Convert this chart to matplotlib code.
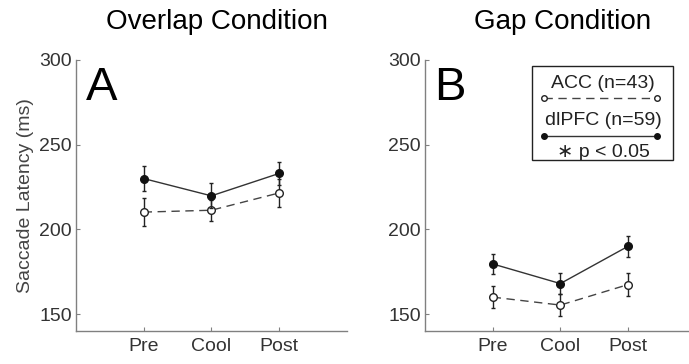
import matplotlib
matplotlib.use("Agg")
import matplotlib.pyplot as plt
from matplotlib.patches import Rectangle

plt.rcParams['font.family'] = ['Liberation Sans', 'DejaVu Sans']

phases = ["Pre", "Cool", "Post"]
titles = ["Overlap Condition", "Gap Condition"]
letters = ["A", "B"]

# overlap condition
acc_overlap = [210.2, 211.3, 221.5]
acc_overlap_err = [8.4, 6.3, 8.3]
dlpfc_overlap = [230.0, 219.8, 233.0]
dlpfc_overlap_err = [7.2, 7.4, 7.0]

# gap condition
acc_gap = [160.0, 155.3, 167.4]
acc_gap_err = [6.4, 6.7, 7.0]
dlpfc_gap = [179.6, 168.0, 190.0]
dlpfc_gap_err = [6.0, 6.0, 6.3]

legend_labels = ["ACC (n=43)", "dlPFC (n=59)", "\u2217 p < 0.05"]

spine_col = "#808080"
text_col = "#333333"

fig = plt.figure(figsize=(6.89, 3.64), dpi=100)
axA = fig.add_axes([76 / 689, 33 / 364, 270.7 / 689, 271 / 364])
axB = fig.add_axes([425 / 689, 33 / 364, 270.7 / 689, 271 / 364])

x = [1, 2, 3]
panels = [(axA, acc_overlap, acc_overlap_err, dlpfc_overlap, dlpfc_overlap_err),
          (axB, acc_gap, acc_gap_err, dlpfc_gap, dlpfc_gap_err)]

for i, (ax, acc, acc_e, dl, dl_e) in enumerate(panels):
    ax.errorbar(x, acc, yerr=acc_e, color="#444444", ls=(0, (6, 4)), lw=1,
                marker="o", ms=5.5, mfc="white", mec="#222222", mew=1,
                ecolor="#222222", elinewidth=1, capsize=1.5, zorder=2)
    ax.errorbar(x, dl, yerr=dl_e, color="#333333", ls="-", lw=1,
                marker="o", ms=5.5, mfc="#111111", mec="#111111",
                ecolor="#222222", elinewidth=1, capsize=1.5, zorder=3)
    ax.set_xlim(0, 4)
    ax.set_ylim(140, 300)
    ax.set_xticks(x)
    ax.set_xticklabels(phases)
    ax.set_yticks([150, 200, 250, 300])
    ax.tick_params(direction="in", length=3, color=spine_col, labelsize=14,
                   labelcolor=text_col)
    ax.tick_params(axis="x", pad=5)
    ax.tick_params(axis="y", pad=3)
    for s in ["top", "right"]:
        ax.spines[s].set_visible(False)
    for s in ["left", "bottom"]:
        ax.spines[s].set_color(spine_col)
        ax.spines[s].set_linewidth(1)
    ax.text(0.035, 0.852, letters[i], transform=ax.transAxes, fontsize=34,
            ha="left", va="baseline", color="black")

axA.text(0.52, 1.114, titles[0], transform=axA.transAxes, fontsize=20,
         ha="center", va="baseline", color="black")
axB.text(0.51, 1.114, titles[1], transform=axB.transAxes, fontsize=20,
         ha="center", va="baseline", color="black")
axA.set_ylabel("Saccade Latency (ms)", fontsize=14, color="#444444", labelpad=4)

# legend box drawn by hand
axB.add_patch(Rectangle((0.395, 0.631), 0.521, 0.347, transform=axB.transAxes,
                        fill=False, ec="#222222", lw=1, zorder=5))
axB.text(0.658, 0.915, legend_labels[0], transform=axB.transAxes, fontsize=14,
         ha="center", va="center", color="#222222")
axB.plot([0.44, 0.857], [0.859, 0.859], transform=axB.transAxes, color="#444444",
         ls=(0, (6, 4)), lw=1, marker="o", ms=4, mfc="white", mec="#222222")
axB.text(0.658, 0.775, legend_labels[1], transform=axB.transAxes, fontsize=14,
         ha="center", va="center", color="#222222")
axB.plot([0.44, 0.857], [0.72, 0.72], transform=axB.transAxes, color="#333333",
         ls="-", lw=1, marker="o", ms=4, mfc="#111111", mec="#111111")
axB.text(0.658, 0.657, legend_labels[2], transform=axB.transAxes, fontsize=14,
         ha="center", va="center", color="#222222")

fig.savefig("out.png", dpi=100)
